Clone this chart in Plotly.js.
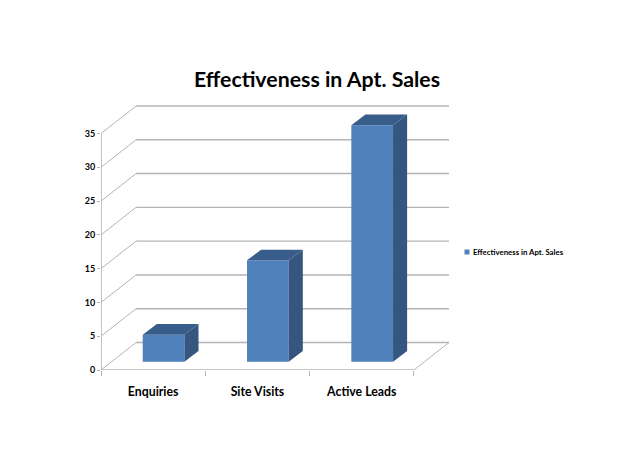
<!DOCTYPE html>
<html>
<head>
<meta charset="utf-8">
<script src="https://cdn.plot.ly/plotly-3.0.1.min.js"></script>
<style>html,body{margin:0;padding:0;background:#fff}</style>
</head>
<body>
<div id="chart" style="width:624px;height:468px"></div>
<script>
const categories = ["Enquiries", "Site Visits", "Active Leads"];
const seriesName = "Effectiveness in Apt. Sales";
const seriesValues = [4, 15, 35];
const yTicks = [0, 5, 10, 15, 20, 25, 30, 35];

// oblique projection, in axis units
const wallDx = 0.3365, wallDy = 4.07;
const barLiftX = 0.1, barLiftY = 1.23;
const barDepthX = 0.135, barDepthY = 1.58;
const barWidth = 0.4;
const xMin = -0.5, xFront = 2.5, xMax = xFront + wallDx;

const FRONT = "#4f81bd", SIDE = "#34567f", TOP = "#385d8a";
const GRID = "#b4b4b4";
const fontFamily = "Lato, Carlito, Calibri, sans-serif";

const idx = categories.map((_, i) => i);
const traces = [{
  type: "bar", x: idx.map(i => i + barLiftX), y: seriesValues, base: barLiftY,
  width: barWidth, name: seriesName, marker: {color: FRONT, line: {width: 0}},
  hoverinfo: "skip", showlegend: true
}];
idx.forEach(i => {
  const x0 = i + barLiftX - barWidth / 2, x1 = x0 + barWidth;
  const b = barLiftY, t = barLiftY + seriesValues[i];
  traces.push({type: "scatter", mode: "lines", fill: "toself", fillcolor: TOP,
    x: [x0, x1, x1 + barDepthX, x0 + barDepthX, x0],
    y: [t, t, t + barDepthY, t + barDepthY, t],
    line: {width: 0, color: TOP}, hoverinfo: "skip", showlegend: false});
  traces.push({type: "scatter", mode: "lines", fill: "toself", fillcolor: SIDE,
    x: [x1, x1, x1 + barDepthX, x1 + barDepthX, x1],
    y: [b, t, t + barDepthY, b + barDepthY, b],
    line: {width: 0, color: SIDE}, hoverinfo: "skip", showlegend: false});
});

const line = (x0, y0, x1, y1, w) => ({type: "line", xref: "x", yref: "y", layer: "below",
  x0, y0, x1, y1, line: {color: GRID, width: w}});
const shapes = [];
yTicks.forEach(v => {
  shapes.push(line(xMin, v, xMin + wallDx, v + wallDy, 1));
  shapes.push(line(xMin + wallDx, v + wallDy, xMax, v + wallDy, 1.4));
});
shapes.push(line(xMin, 0, xMin, yTicks[yTicks.length - 1], 1.6));
shapes.push(line(xMin, 0, xFront, 0, 1.4));
shapes.push(line(xFront, 0, xMax, wallDy, 1));

const layout = {
  width: 624, height: 468, autosize: false,
  margin: {l: 101, r: 175, t: 100, b: 98, pad: 0},
  paper_bgcolor: "#fff", plot_bgcolor: "#fff",
  title: {text: "Effectiveness in Apt. Sales", x: 317 / 624, xanchor: "center",
    y: 1 - 80 / 468, yanchor: "middle", yref: "container",
    font: {family: fontFamily, size: 21.3, color: "#000", weight: "bold"}},
  xaxis: {type: "linear", range: [xMin, xMax], tickmode: "array", tickvals: idx,
    ticktext: categories, ticks: "", showgrid: false, zeroline: false, showline: false,
    ticklabelstandoff: 13,
    tickfont: {family: fontFamily, size: 12.3, color: "#000", weight: "bold"},
    minor: {tickmode: "array", tickvals: [-0.5, 0.5, 1.5, 2.5], ticks: "outside",
      ticklen: 5, tickwidth: 1, tickcolor: GRID, showgrid: false}},
  yaxis: {range: [0, 270 / 6.757], tickmode: "array", tickvals: yTicks, ticks: "outside",
    ticklen: 3, tickwidth: 1, tickcolor: GRID, showgrid: false, zeroline: false, showline: false,
    tickfont: {family: fontFamily, size: 9, color: "#000", weight: "bold"}},
  shapes,
  showlegend: true,
  legend: {x: (433 - 101) / 348, xanchor: "left", y: 1 - (253 - 100) / 272, yanchor: "middle",
    bgcolor: "rgba(0,0,0,0)", borderwidth: 0,
    font: {family: fontFamily, size: 7.8, color: "#000", weight: "bold"}}
};

Plotly.newPlot("chart", traces, layout, {displayModeBar: false, staticPlot: true}).then(gd => {
  // compact the legend swatch to the small key used by the chart
  gd.querySelectorAll(".legend .legendpoints path").forEach(p => {
    p.setAttribute("d", "M2.5,2.5H-2.5V-2.5H2.5Z");
    p.setAttribute("transform", "translate(34,0)");
  });
});
</script>
</body>
</html>
